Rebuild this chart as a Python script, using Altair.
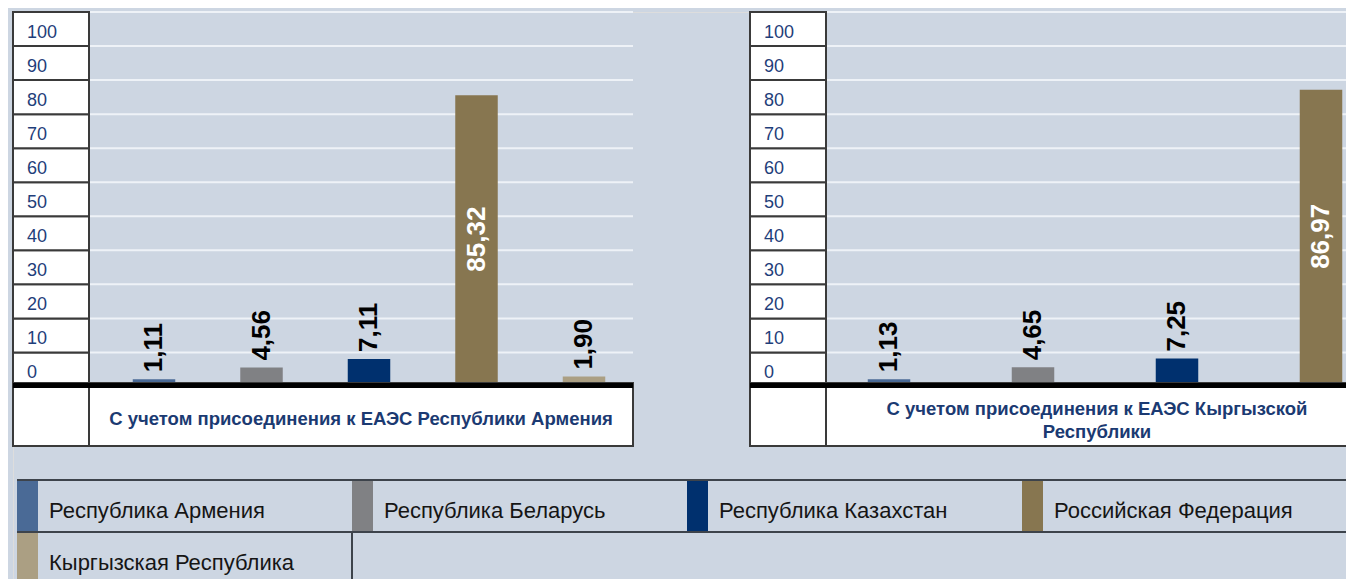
import altair as alt
import pandas as pd

# ---------------- data ----------------
countries = ["Республика Армения", "Республика Беларусь", "Республика Казахстан",
             "Российская Федерация", "Кыргызская Республика"]
colors = ["#4a6a96", "#808184", "#00306e", "#877650", "#ab9f83"]

values_armenia = [1.11, 4.56, 7.11, 85.32, 1.90]
values_kyrgyz = [1.13, 4.65, 7.25, 86.97]          # fifth bar lies outside the picture

panel_titles = ["С учетом присоединения к ЕАЭС Республики Армения",
                "С учетом присоединения к ЕАЭС Кыргызской\nРеспублики"]

tick_values = [0, 10, 20, 30, 40, 50, 60, 70, 80, 90, 100]
grid_values = [10, 20, 30, 40, 50, 60, 70, 80, 90, 100, 110]

legend_cols = [0, 1, 2, 3, 0]
legend_rows = [0, 0, 0, 0, 1]

# ---------------- style / layout ----------------
BG = "#cdd6e2"
GRID = "#eef2f7"
BORDER = "#3a3a3a"
AXIS_TXT = "#1f3e7a"
CAT_TXT = "#1b3a72"
FONT = "Liberation Sans"

W = 1333          # drawing width (view)
VH = 567          # drawing height (view)
ZERO_GRID = 374.5  # pixel of 0 for the table rows / grid
ZERO_BAR = 371     # pixel of 0 for the bars (top of base line)
LINE_Y = 373.5     # thick base line
BOX_Y1 = 371
BOX_Y2 = 434
LAB_W = 76

PANELS = [
    dict(lab0=0, p0=76, p1=620, rng=[87.25, 624.75], tx=348, ty=407, vals=values_armenia,
         title=panel_titles[0], box_end=620),
    dict(lab0=737, p0=813, p1=W, rng=[804, 1524], tx=1084, ty=397, vals=values_kyrgyz,
         title=panel_titles[1], box_end=W + 20),
]

ygrid = alt.Scale(domain=[0, 110], range=[ZERO_GRID, 0], nice=False, zero=True)
ybar = alt.Scale(domain=[0, 110], range=[ZERO_BAR, 0], nice=False, zero=True)
color_scale = alt.Scale(domain=countries, range=colors)
LBL = "replace(format(datum.value, '.2f'), '.', ',')"


def panel_layers(p):
    layers = []
    layers.append(
        alt.Chart(pd.DataFrame({"g": grid_values})).mark_rule(color=GRID, strokeWidth=2)
        .encode(y=alt.Y("g:Q", scale=ygrid, axis=None),
                x=alt.value(p["p0"]), x2=alt.value(p["p1"]))
    )
    df = pd.DataFrame({"country": countries[:len(p["vals"])], "value": p["vals"]})
    x = alt.X("country:N", sort=countries,
              scale=alt.Scale(domain=countries, range=p["rng"], paddingInner=0, paddingOuter=0),
              axis=None)
    y = alt.Y("value:Q", scale=ybar, axis=None)
    layers.append(
        alt.Chart(df).mark_bar(size=42.5, clip=True)
        .encode(x=x, y=y, color=alt.Color("country:N", scale=color_scale, legend=None))
    )
    layers.append(
        alt.Chart(df).transform_filter("datum.value < 50").transform_calculate(lbl=LBL)
        .mark_text(angle=270, align="left", baseline="middle", dx=7, fontSize=26,
                   fontWeight="bold", color="black", font=FONT)
        .encode(x=x, y=y, text="lbl:N")
    )
    layers.append(
        alt.Chart(df).transform_filter("datum.value >= 50")
        .transform_calculate(lbl=LBL, mid="datum.value / 2")
        .mark_text(angle=270, align="center", baseline="middle", fontSize=26,
                   fontWeight="bold", color="white", font=FONT)
        .encode(x=x, y=alt.Y("mid:Q", scale=ybar, axis=None), text="lbl:N")
    )
    ticks = pd.DataFrame({"t": tick_values})
    layers.append(
        alt.Chart(ticks).transform_calculate(t2="datum.t + 10")
        .mark_rect(fill="white", stroke=BORDER, strokeWidth=2)
        .encode(y=alt.Y("t:Q", scale=ygrid, axis=None), y2="t2:Q",
                x=alt.value(p["lab0"]), x2=alt.value(p["lab0"] + LAB_W))
    )
    layers.append(
        alt.Chart(ticks).transform_calculate(tm="datum.t + 5")
        .mark_text(align="left", baseline="middle", dy=3.5, fontSize=18, color=AXIS_TXT, font=FONT)
        .encode(y=alt.Y("tm:Q", scale=ygrid, axis=None), x=alt.value(p["lab0"] + 14),
                text="t:N")
    )
    box = alt.Chart(pd.DataFrame({"t": [p["title"]]}))
    layers.append(
        box.mark_rect(fill="white", stroke=BORDER, strokeWidth=2)
        .encode(x=alt.value(p["lab0"]), x2=alt.value(p["p0"]),
                y=alt.value(BOX_Y1), y2=alt.value(BOX_Y2))
    )
    layers.append(
        box.mark_rect(fill="white", stroke=BORDER, strokeWidth=2)
        .encode(x=alt.value(p["p0"]), x2=alt.value(p["box_end"]),
                y=alt.value(BOX_Y1), y2=alt.value(BOX_Y2))
    )
    layers.append(
        box.mark_rule(color="black", strokeWidth=5, strokeCap="butt")
        .encode(x=alt.value(p["lab0"]), x2=alt.value(p["p1"]), y=alt.value(LINE_Y))
    )
    layers.append(
        box.mark_text(align="center", baseline="middle", fontSize=18.5, fontWeight="bold",
                      color=CAT_TXT, font=FONT, lineBreak="\n", lineHeight=23)
        .encode(x=alt.value(p["tx"]), y=alt.value(p["ty"]), text="t:N")
    )
    return layers


# ---------------- legend table ----------------
lx = alt.Scale(domain=[0, 4], range=[4, 1344])
ly = alt.Scale(domain=[0, 2], range=[468, 572])
leg_df = pd.DataFrame({"country": countries, "col": legend_cols, "row": legend_rows})

swatch = alt.Chart(leg_df).transform_calculate(row2="datum.row + 1").mark_rule(
    strokeWidth=21, xOffset=10.5, strokeCap="butt"
).encode(
    x=alt.X("col:Q", scale=lx, axis=None),
    y=alt.Y("row:Q", scale=ly, axis=None),
    y2="row2:Q",
    color=alt.Color("country:N", scale=color_scale, legend=None),
)
leg_text = alt.Chart(leg_df).transform_calculate(rc="datum.row + 0.5").mark_text(
    align="left", baseline="middle", dx=32, dy=4.5, fontSize=22, color="#151515", font=FONT
).encode(
    x=alt.X("col:Q", scale=lx, axis=None),
    y=alt.Y("rc:Q", scale=ly, axis=None),
    text="country:N",
)
hlines = alt.Chart(pd.DataFrame({"r": [0, 1]})).mark_rule(
    color="#3d434b", strokeWidth=2
).encode(
    y=alt.Y("r:Q", scale=ly, axis=None), x=alt.value(4), x2=alt.value(W + 10)
)
vline = alt.Chart(pd.DataFrame({"c": [1], "r1": [1], "r2": [2]})).mark_rule(
    color="#3d434b", strokeWidth=2
).encode(
    x=alt.X("c:Q", scale=lx, axis=None),
    y=alt.Y("r1:Q", scale=ly, axis=None),
    y2="r2:Q",
)

all_layers = panel_layers(PANELS[0]) + panel_layers(PANELS[1]) + [swatch, leg_text, hlines, vline]

chart = alt.layer(*all_layers).resolve_scale(
    x="independent", y="independent"
).properties(
    width=W, height=VH,
    padding={"left": 5, "top": 4, "right": 0, "bottom": 0},
    autosize=alt.AutoSizeParams(type="none"),
    background=BG,
).configure_view(strokeWidth=0).configure(font=FONT)

chart.save("out.html", embed_options={"renderer": "svg", "actions": False})
